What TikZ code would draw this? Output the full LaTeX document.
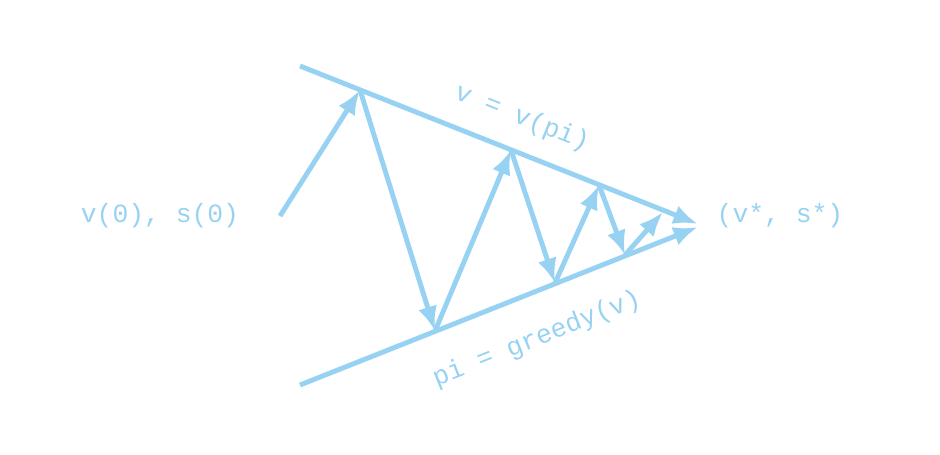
\documentclass[tikz,border=0pt]{standalone}
\usepackage{fontspec}
\setmonofont{Liberation Mono}
\usetikzlibrary{arrows.meta}
\definecolor{skyline}{RGB}{152,210,242}

\begin{document}
\begin{tikzpicture}[x=0.02cm,y=-0.02cm,line width=2.8pt,color=skyline]
      \useasboundingbox (0,0) rectangle (940,455);
      \tikzstyle{lbl}=[font=\ttfamily\fontsize{15}{18}\selectfont,text=skyline]
      \tikzstyle{ar}=[-{Latex[length=14pt,width=11pt]}]

      % the two bounding lines
      \coordinate (T0) at (300,66);
      \coordinate (B0) at (300,385);
      \coordinate (E)  at (698,224);
      \coordinate (E2) at (698,227);

      % zigzag corners
      \coordinate (S)  at (280,216);
      \coordinate (P1) at (360,90);
      \coordinate (P2) at (435,331);
      \coordinate (P3) at (511,150);
      \coordinate (P4) at (555,283);
      \coordinate (P5) at (599,185);
      \coordinate (P6) at (625,255);
      \coordinate (P7) at (663,212);

      \node[lbl] (start) at (160,216) {v(0), s(0)};
      \node[lbl] (fix)   at (780,216) {(v*, s*)};
      \node[lbl,rotate=-21.7] (vpi) at (522,118) {v = v(pi)};
      \node[lbl,rotate=21.7]  (greedy) at (537,339) {pi = greedy(v)};

      \draw[ar] (T0) -- (E);
      \draw[ar] (B0) -- (E2);

      \draw[ar] (S) -- (P1);
      \draw[ar] (P1) -- (P2);
      \draw[ar] (P2) -- (P3);
      \draw[ar] (P3) -- (P4);
      \draw[ar] (P4) -- (P5);
      \draw[ar] (P5) -- (P6);
      \draw[ar] (P6) -- (P7);
\end{tikzpicture}
\end{document}
